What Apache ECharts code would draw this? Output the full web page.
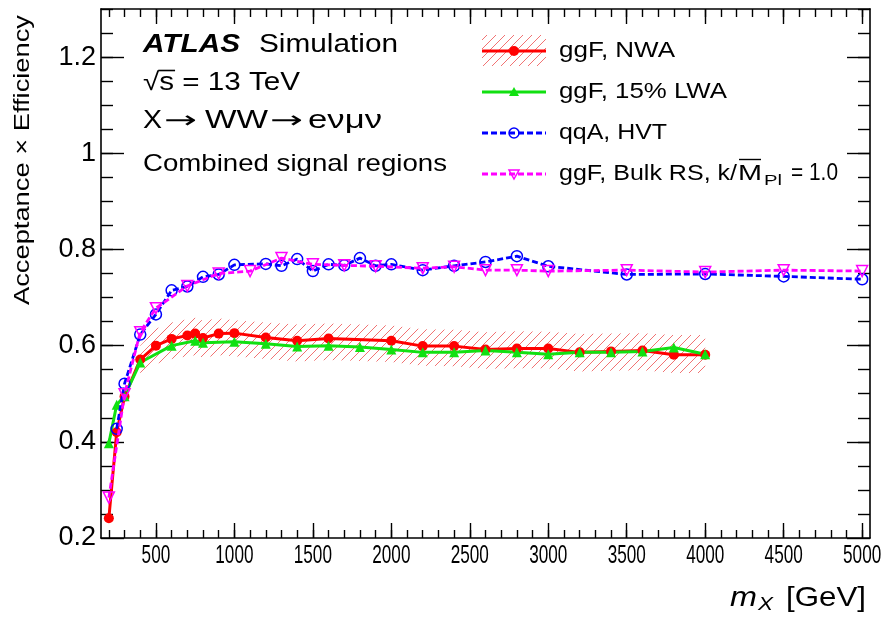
<!DOCTYPE html>
<html>
<head>
<meta charset="utf-8">
<script src="https://cdn.jsdelivr.net/npm/echarts@6/dist/echarts.min.js"></script>
<style>
  html, body { margin: 0; padding: 0; background: #ffffff; }
  #chart { width: 896px; height: 619px; }
</style>
</head>
<body>
<div id="chart"></div>
<script>
// ---- Signal acceptance x efficiency vs resonance mass ----
// ggF, narrow-width approximation
const nwaMass = [200, 250, 300, 400, 500, 600, 700, 750, 800, 900, 1000, 1200, 1400, 1600, 2000, 2200, 2400, 2600, 2800, 3000, 3200, 3400, 3600, 3800, 4000];
const nwaAcc  = [0.241, 0.420, 0.494, 0.571, 0.600, 0.614, 0.621, 0.625, 0.616, 0.625, 0.626, 0.617, 0.610, 0.615, 0.610, 0.599, 0.599, 0.592, 0.594, 0.594, 0.586, 0.588, 0.590, 0.581, 0.581];

// uncertainty band on the NWA curve
const bandMass = [400, 500, 600, 700, 750, 800, 900, 1000, 1200, 1400, 1600, 2000, 2200, 2400, 2600, 2800, 3000, 3200, 3400, 3600, 3800, 4000];
const bandHi   = [0.600, 0.635, 0.648, 0.655, 0.658, 0.652, 0.657, 0.653, 0.648, 0.644, 0.646, 0.642, 0.634, 0.633, 0.628, 0.630, 0.629, 0.624, 0.625, 0.626, 0.622, 0.622];
const bandLo   = [0.540, 0.562, 0.572, 0.578, 0.580, 0.575, 0.580, 0.578, 0.572, 0.567, 0.570, 0.566, 0.558, 0.557, 0.552, 0.553, 0.553, 0.546, 0.548, 0.549, 0.543, 0.543];

// ggF, 15% large-width approximation
const lwaMass = [200, 250, 300, 400, 600, 750, 800, 1000, 1200, 1400, 1600, 1800, 2000, 2200, 2400, 2600, 2800, 3000, 3200, 3400, 3600, 3800, 4000];
const lwaAcc  = [0.397, 0.477, 0.495, 0.565, 0.600, 0.610, 0.606, 0.608, 0.604, 0.598, 0.600, 0.597, 0.592, 0.586, 0.586, 0.590, 0.586, 0.582, 0.586, 0.586, 0.588, 0.596, 0.582];

// qqA, HVT
const hvtMass = [250, 300, 400, 500, 600, 700, 800, 900, 1000, 1200, 1300, 1400, 1500, 1600, 1700, 1800, 1900, 2000, 2200, 2400, 2600, 2800, 3000, 3500, 4000, 4500, 5000];
const hvtAcc  = [0.427, 0.521, 0.623, 0.665, 0.715, 0.723, 0.743, 0.748, 0.768, 0.770, 0.766, 0.780, 0.755, 0.769, 0.767, 0.782, 0.766, 0.769, 0.757, 0.766, 0.774, 0.786, 0.765, 0.748, 0.749, 0.744, 0.738];

// ggF, Bulk RS graviton
const rsMass = [200, 300, 400, 500, 700, 900, 1100, 1300, 1500, 1700, 1900, 2200, 2400, 2600, 2800, 3000, 3500, 4000, 4500, 5000];
const rsAcc  = [0.284, 0.499, 0.628, 0.678, 0.724, 0.750, 0.755, 0.782, 0.769, 0.767, 0.765, 0.761, 0.764, 0.757, 0.757, 0.755, 0.757, 0.753, 0.757, 0.755];

// axis ticks
const xTickLabels = [500, 1000, 1500, 2000, 2500, 3000, 3500, 4000, 4500, 5000];
const yTickLabels = [0.2, 0.4, 0.6, 0.8, 1.0, 1.2];
const X_RANGE = [150, 5050];
const Y_RANGE = [0.2, 1.3];

// minor tick positions
const xMinor = [];
for (let v = 200; v <= 5000; v += 100) xMinor.push(v);
const yMinor = [];
for (let k = 5; k <= 26; k++) yMinor.push(Math.round(k * 5) / 100);

const FAM = "'Liberation Sans', Arial, Helvetica, sans-serif";
const GRID = { left: 101, right: 26, top: 9, bottom: 81 };

const pairs = (xs, ys) => xs.map((x, i) => [x, ys[i]]);

// diagonal hatch tile
function makeHatchTile() {
  const c = document.createElement('canvas');
  c.width = 9; c.height = 9;
  const g = c.getContext('2d');
  g.strokeStyle = 'rgba(238,80,80,0.8)';
  g.lineWidth = 1;
  for (const o of [-9, 0, 9]) {
    g.beginPath(); g.moveTo(o, 9); g.lineTo(o + 9, 0); g.stroke();
  }
  return c;
}
const hatchTile = makeHatchTile();
const hatchFill = () => ({ image: hatchTile, repeat: 'repeat' });

// text measuring
const mctx = document.createElement('canvas').getContext('2d');
function fontStr(p) {
  return (p.italic ? 'italic ' : '') + (p.bold ? 'bold ' : '') + p.size + 'px ' + (p.family || FAM);
}
function tw(text, p) { mctx.font = fontStr(p); return mctx.measureText(text).width; }

// text stretched horizontally to span [x0, x1], vertically centred on y
function fitText(text, p, x0, x1, y) {
  return {
    type: 'text', x: x0, y: y, scaleX: (x1 - x0) / tw(text, p), silent: true,
    style: { text: text, font: fontStr(p), fill: '#000', align: 'left', verticalAlign: 'middle',
             textAlign: 'left', textVerticalAlign: 'middle' }
  };
}

const graphics = [];
// top-left annotation block
graphics.push(fitText('ATLAS', { size: 26, bold: true, italic: true }, 143, 240, 45));
graphics.push(fitText('Simulation', { size: 26 }, 259, 398, 45));
graphics.push(fitText('\u221As = 13 TeV', { size: 25 }, 143, 300, 83));
{
  const p = { size: 25 };
  const sc = (300 - 143) / tw('\u221As = 13 TeV', p);
  const x0 = 143 + tw('\u221A', p) * sc - 1;
  const x1 = 143 + tw('\u221As', p) * sc + 1;
  graphics.push({ type: 'line', silent: true, shape: { x1: x0, y1: 70.5, x2: x1, y2: 70.5 }, style: { stroke: '#000', lineWidth: 1.6 } });
}
const ARW = { size: 24, family: "'DejaVu Sans', sans-serif" };
graphics.push(fitText('X', { size: 25 }, 143, 162, 121));
graphics.push(fitText('\u2192', ARW, 164, 197, 122));
graphics.push(fitText('WW', { size: 25 }, 205, 268, 121));
graphics.push(fitText('\u2192', ARW, 270, 303, 122));
graphics.push(fitText('e\u03BD\u03BC\u03BD', { size: 25 }, 308, 382, 121));
graphics.push(fitText('Combined signal regions', { size: 24 }, 143, 447, 164));

// legend
const LF = 22, LX0 = 482, LX1 = 546, LMX = 514, LTX = 559;
const rows = [51, 92, 133, 174];
graphics.push({ type: 'rect', silent: true, shape: { x: LX0, y: 35, width: LX1 - LX0, height: 31 }, style: { fill: hatchFill() } });
graphics.push({ type: 'line', silent: true, shape: { x1: LX0, y1: rows[0], x2: LX1, y2: rows[0] }, style: { stroke: '#ff0000', lineWidth: 3 } });
graphics.push({ type: 'circle', silent: true, shape: { cx: LMX, cy: rows[0], r: 5 }, style: { fill: '#ff0000' } });
graphics.push({ type: 'line', silent: true, shape: { x1: LX0, y1: rows[1], x2: LX1, y2: rows[1] }, style: { stroke: '#11e011', lineWidth: 3 } });
graphics.push({ type: 'polygon', silent: true, shape: { points: [[LMX, rows[1] - 5], [LMX - 5, rows[1] + 4], [LMX + 5, rows[1] + 4]] }, style: { fill: '#11e011' } });
graphics.push({ type: 'line', silent: true, shape: { x1: LX0, y1: rows[2], x2: LX1, y2: rows[2] }, style: { stroke: '#0000ff', lineWidth: 3, lineDash: [6, 3] } });
graphics.push({ type: 'circle', silent: true, shape: { cx: LMX, cy: rows[2], r: 5 }, style: { fill: 'none', stroke: '#0000ff', lineWidth: 1.5 } });
graphics.push({ type: 'line', silent: true, shape: { x1: LX0, y1: rows[3], x2: LX1, y2: rows[3] }, style: { stroke: '#ff00ff', lineWidth: 3, lineDash: [6, 3] } });
graphics.push({ type: 'polygon', silent: true, shape: { points: [[LMX - 5, rows[3] - 4], [LMX + 5, rows[3] - 4], [LMX, rows[3] + 5]] }, style: { fill: 'none', stroke: '#ff00ff', lineWidth: 1.5 } });

graphics.push(fitText('ggF, NWA', { size: LF }, LTX, 675, rows[0]));
graphics.push(fitText('ggF, 15% LWA', { size: LF }, LTX, 727, rows[1]));
graphics.push(fitText('qqA, HVT', { size: LF }, LTX, 667, rows[2]));
graphics.push(fitText('ggF, Bulk RS, k/', { size: LF }, LTX, 737, rows[3]));
graphics.push(fitText('M', { size: LF }, 738, 762, rows[3]));
graphics.push({ type: 'line', silent: true, shape: { x1: 739, y1: rows[3] - 14.5, x2: 761, y2: rows[3] - 14.5 }, style: { stroke: '#000', lineWidth: 1.4 } });
graphics.push(fitText('Pl', { size: 15 }, 764, 782, rows[3] + 7));
graphics.push(fitText('= 1.0', { size: 23 }, 791, 838, rows[3]));

// axis titles
graphics.push(fitText('m', { size: 28, italic: true }, 730, 757, 598));
graphics.push(fitText('X', { size: 18, italic: true }, 758, 773, 605));
graphics.push(fitText('[GeV]', { size: 28 }, 786, 866, 598));
{
  const p = { size: 22 };
  graphics.push({
    type: 'text', x: 23, y: 160, rotation: Math.PI / 2, scaleX: 290 / tw('Acceptance \u00D7 Efficiency', p), silent: true,
    style: { text: 'Acceptance \u00D7 Efficiency', font: fontStr(p), fill: '#000',
             align: 'center', verticalAlign: 'middle', textAlign: 'center', textVerticalAlign: 'middle' }
  });
}

// frame axes: major/minor ticks drawn inside on all four sides
function xAx(position, ticks, len, line) {
  return {
    type: 'value', position, min: X_RANGE[0], max: X_RANGE[1], gridIndex: 0,
    axisLine: { show: line, onZero: false, lineStyle: { color: '#000', width: 1.6 } },
    axisTick: { show: true, inside: true, length: len, customValues: ticks, lineStyle: { color: '#000', width: 1.4 } },
    axisLabel: { show: false },
    splitLine: { show: false }, minorTick: { show: false }
  };
}
function yAx(position, ticks, len, labels, line) {
  return {
    type: 'value', position, min: Y_RANGE[0], max: Y_RANGE[1], gridIndex: 0,
    axisLine: { show: line, onZero: false, lineStyle: { color: '#000', width: 1.6 } },
    axisTick: { show: true, inside: true, length: len, customValues: ticks, lineStyle: { color: '#000', width: 1.4 } },
    axisLabel: labels ? { show: true, customValues: yTickLabels, margin: 5, color: '#000', fontSize: 27, fontFamily: FAM,
      formatter: v => String(Math.round(v * 10) / 10) } : { show: false },
    splitLine: { show: false }, minorTick: { show: false }
  };
}

const option = {
  animation: false,
  backgroundColor: '#ffffff',
  grid: { left: GRID.left, right: GRID.right, top: GRID.top, bottom: GRID.bottom, containLabel: false },
  xAxis: [
    xAx('bottom', xTickLabels, 15, true),
    xAx('bottom', xMinor, 8, false),
    xAx('top', xTickLabels, 15, true),
    xAx('top', xMinor, 8, false)
  ],
  yAxis: [
    yAx('left', yTickLabels, 23, true, true),
    yAx('left', yMinor, 12, false, false),
    yAx('right', yTickLabels, 23, false, true),
    yAx('right', yMinor, 12, false, false)
  ],
  series: [
    {
      type: 'custom', name: 'NWA band', coordinateSystem: 'cartesian2d', xAxisIndex: 0, yAxisIndex: 0,
      data: bandMass.map((m, i) => [m, bandLo[i], bandHi[i]]),
      encode: { x: 0, y: [1, 2] }, silent: true, z: 1,
      renderItem: function (params, api) {
        if (params.dataIndex !== 0) return null;
        const pts = [];
        for (let i = 0; i < bandMass.length; i++) pts.push(api.coord([bandMass[i], bandHi[i]]));
        for (let i = bandMass.length - 1; i >= 0; i--) pts.push(api.coord([bandMass[i], bandLo[i]]));
        return { type: 'polygon', shape: { points: pts }, style: { fill: hatchFill(), stroke: null } };
      }
    },
    { type: 'line', name: 'ggF, NWA', data: pairs(nwaMass, nwaAcc), symbol: 'circle', symbolSize: 10,
      lineStyle: { color: '#ff0000', width: 3 }, itemStyle: { color: '#ff0000' }, z: 3 },
    { type: 'line', name: 'ggF, 15% LWA', data: pairs(lwaMass, lwaAcc), symbol: 'triangle', symbolSize: 10,
      lineStyle: { color: '#11e011', width: 3 }, itemStyle: { color: '#11e011' }, z: 3 },
    { type: 'line', name: 'qqA, HVT', data: pairs(hvtMass, hvtAcc), symbol: 'circle', symbolSize: 11,
      lineStyle: { color: '#0000ff', width: 2.8, type: [6, 3] },
      itemStyle: { color: 'rgba(0,0,0,0)', borderColor: '#0000ff', borderWidth: 1.5 }, z: 4 },
    { type: 'line', name: 'ggF, Bulk RS', data: pairs(rsMass, rsAcc), symbol: 'triangle', symbolRotate: 180, symbolSize: 11,
      lineStyle: { color: '#ff00ff', width: 2.8, type: [6, 3] },
      itemStyle: { color: 'rgba(0,0,0,0)', borderColor: '#ff00ff', borderWidth: 1.5 }, z: 5 }
  ],
  graphic: graphics
};

const chart = echarts.init(document.getElementById('chart'), null, { renderer: 'canvas' });
chart.setOption(option);

// x tick labels: narrow digits placed at the axis positions
const XLF = { size: 26 };
xTickLabels.forEach(v => {
  const px = chart.convertToPixel({ xAxisIndex: 0 }, v);
  graphics.push({
    type: 'text', x: px, y: 556, scaleX: 0.66, silent: true,
    style: { text: String(v), font: fontStr(XLF), fill: '#000', align: 'center', verticalAlign: 'middle',
             textAlign: 'center', textVerticalAlign: 'middle' }
  });
});
chart.setOption({ graphic: graphics });
</script>
</body>
</html>
